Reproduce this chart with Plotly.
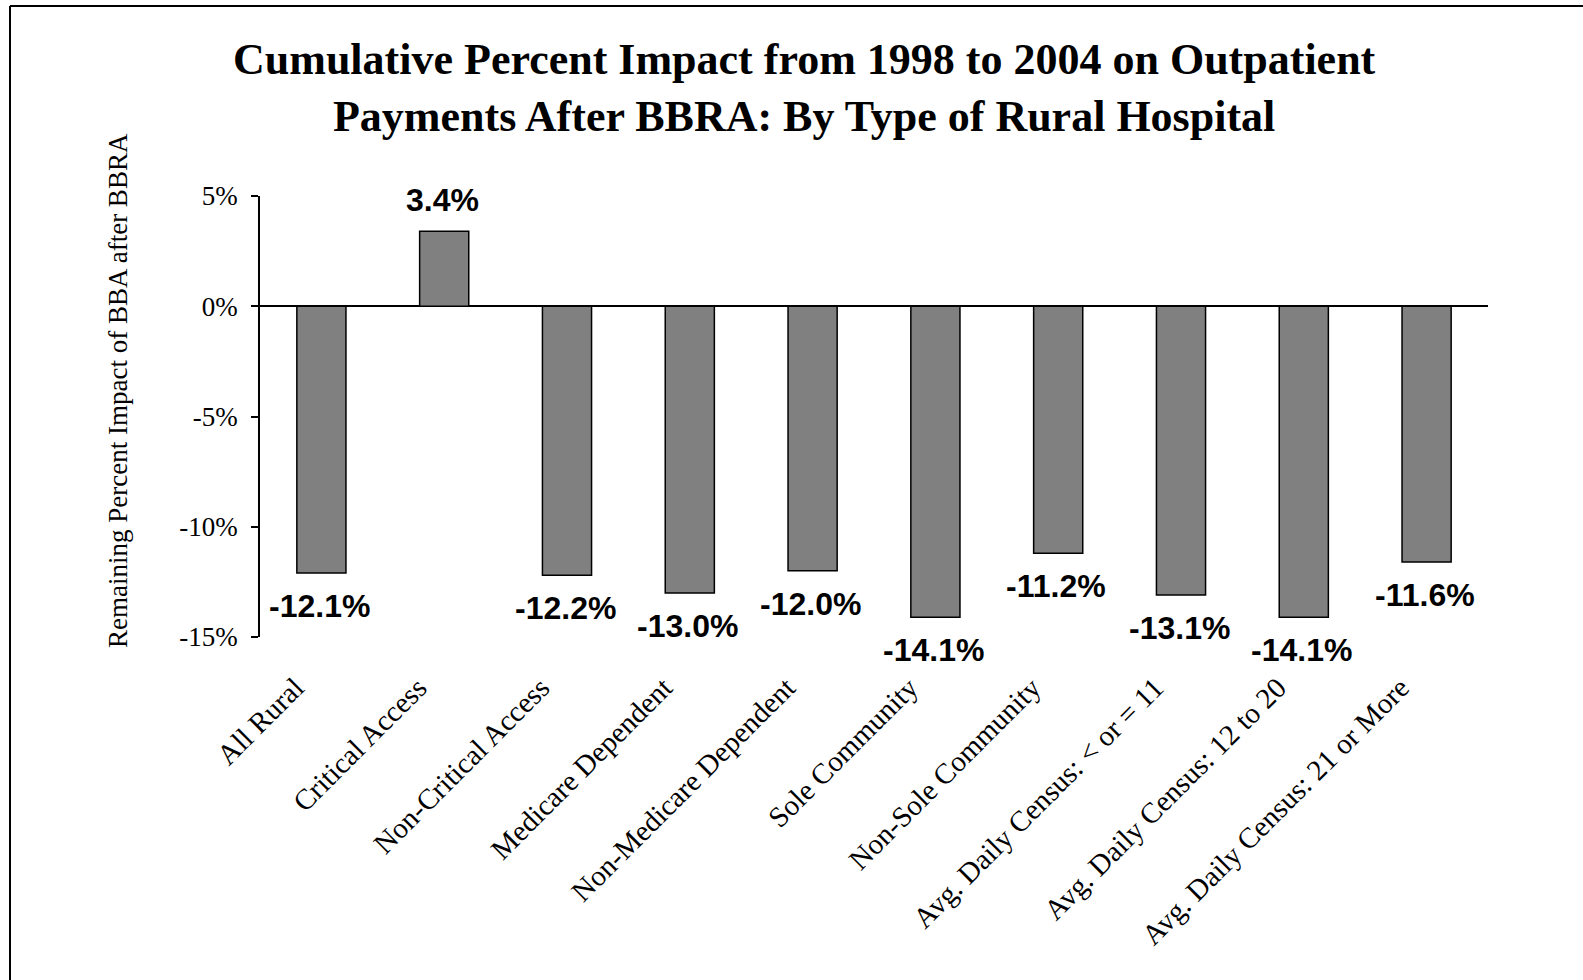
import plotly.graph_objects as go

categories = ["All Rural", "Critical Access", "Non-Critical Access", "Medicare Dependent",
              "Non-Medicare Dependent", "Sole Community", "Non-Sole Community",
              "Avg. Daily Census: < or = 11", "Avg. Daily Census: 12 to 20",
              "Avg. Daily Census: 21 or More"]
values = [-12.1, 3.4, -12.2, -13.0, -12.0, -14.1, -11.2, -13.1, -14.1, -11.6]
value_labels = ["-12.1%", "3.4%", "-12.2%", "-13.0%", "-12.0%", "-14.1%", "-11.2%",
                "-13.1%", "-14.1%", "-11.6%"]
ytick_vals = [5, 0, -5, -10, -15]
ytick_text = ["5%", "0%", "-5%", "-10%", "-15%"]
title_text = "Cumulative Percent Impact from 1998 to 2004 on Outpatient<br>Payments After BBRA: By Type of Rural Hospital"
ytitle_text = "Remaining Percent Impact of BBA after BBRA"

W, H = 1583, 980
L, R, T, B = 260, 95, 196, 343
PW, PH = W - L - R, H - T - B

def px(x):
    return (x - L) / PW

def py(y):
    return (H - B - y) / PH

serif = "Liberation Serif, Times New Roman, serif"
sans = "Liberation Sans, Arial, sans-serif"

xs = list(range(len(categories)))
fig = go.Figure()
fig.add_trace(go.Bar(
    x=xs, y=values, width=0.4,
    marker=dict(color="#808080", line=dict(color="black", width=1.5)),
    hoverinfo="skip", showlegend=False,
))

annotations = []
for xi, v, t in zip(xs, values, value_labels):
    annotations.append(dict(
        x=xi, y=v, xref="x", yref="y", text="<b>%s</b>" % t, showarrow=False,
        yanchor="middle", xanchor="center", yshift=31 if v >= 0 else -33, xshift=-2,
        font=dict(family=sans, size=32, color="black"),
    ))
annotations.append(dict(
    x=px(804), y=py(88), xref="paper", yref="paper", text="<b>%s</b>" % title_text,
    showarrow=False, xanchor="center", yanchor="middle",
    font=dict(family=serif, size=44, color="black"),
))
annotations.append(dict(
    x=px(118), y=py(391), xref="paper", yref="paper", text=ytitle_text,
    showarrow=False, xanchor="center", yanchor="middle", textangle=-90,
    font=dict(family=serif, size=27, color="black"),
))

shapes = [
    dict(type="line", xref="paper", yref="paper", x0=px(10), x1=px(1590), y0=py(6), y1=py(6),
         line=dict(color="black", width=2)),
    dict(type="line", xref="paper", yref="paper", x0=px(10), x1=px(10), y0=py(6), y1=py(990),
         line=dict(color="black", width=2)),
]

fig.update_layout(
    width=W, height=H,
    margin=dict(l=L, r=R, t=T, b=B, autoexpand=False),
    paper_bgcolor="white", plot_bgcolor="white",
    annotations=annotations, shapes=shapes,
    bargap=0.6,
    xaxis=dict(
        range=[-0.5, len(categories) - 0.5], tickmode="array", tickvals=xs,
        ticktext=[c.replace("<", "&lt;") for c in categories],
        tickangle=-45, ticks="", showline=False, showgrid=False, zeroline=False,
        tickfont=dict(family=serif, size=29, color="black"),
        ticklabelstandoff=27, ticklabelshift=-26,
    ),
    yaxis=dict(
        range=[-15, 5], tickmode="array", tickvals=ytick_vals, ticktext=ytick_text,
        ticks="outside", ticklen=7, tickwidth=1.5, tickcolor="black",
        showline=True, linecolor="black", linewidth=1.5, showgrid=False,
        zeroline=True, zerolinecolor="black", zerolinewidth=1.5,
        tickfont=dict(family=serif, size=27, color="black"), ticklabelstandoff=8,
    ),
)

fig.write_html("out.html", config={"displayModeBar": False},
               post_script="document.body.style.margin='0';")
